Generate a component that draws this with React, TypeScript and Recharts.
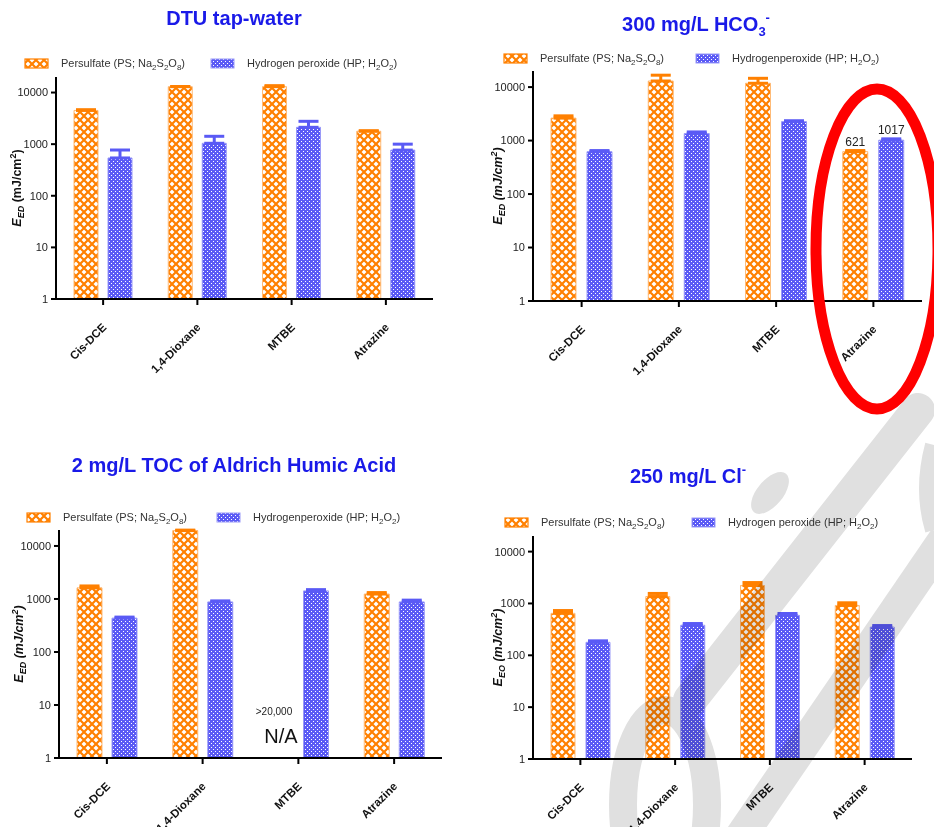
import React from "react";
import { BarChart, Bar, XAxis, YAxis, ErrorBar, LabelList } from "recharts";

// ─── Data ────────────────────────────────────────────────────────────────────

const compounds = ["Cis-DCE", "1,4-Dioxane", "MTBE", "Atrazine"];
const logTicks = [1, 10, 100, 1000, 10000];
const logTop = 20000;

// DTU tap-water
const tapPS = [4500, 13000, 13000, 1780];
const tapPSUp = [150, 100, 600, 40];
const tapHP = [540, 1040, 2120, 767];
const tapHPUp = [230, 380, 650, 233];

// 300 mg/L HCO3-
const hcoPS = [2630, 13000, 11800, 621];
const hcoPSUp = [270, 3700, 2800, 30];
const hcoHP = [620, 1350, 2260, 1017];
const hcoHPUp = [30, 100, 90, 60];
const hcoLabelled = ["Atrazine"];

// 2 mg/L TOC of Aldrich humic acid (PS on MTBE: N/A, >20,000)
const humPS = [1620, 19500, null, 1240];
const humPSUp = [140, 400, null, 80];
const humHP = [435, 880, 1420, 880];
const humHPUp = [20, 40, 80, 70];

// 250 mg/L Cl-
const clPS = [645, 1360, 2220, 915];
const clPSUp = [85, 200, 310, 115];
const clHP = [178, 380, 590, 350];
const clHPUp = [12, 30, 50, 25];

// legend texts, [text, subscript?]
const psLegend: [string, boolean][] = [["Persulfate (PS; Na", false], ["2", true], ["S", false], ["2", true], ["O", false], ["8", true], [")", false]];
const hpLegendA: [string, boolean][] = [["Hydrogen peroxide (HP; H", false], ["2", true], ["O", false], ["2", true], [")", false]];
const hpLegendB: [string, boolean][] = [["Hydrogenperoxide (HP; H", false], ["2", true], ["O", false], ["2", true], [")", false]];

// ─── Styles ──────────────────────────────────────────────────────────────────

const FONT = "'Liberation Sans', Arial, sans-serif";
const ORANGE = "#ff8000";
const ORANGE_EDGE = "#ffbb77";
const BLUE = "#5a5af5";
const BLUE_EDGE = "#9a9af8";
const TITLE_BLUE = "#1a1ae8";
const WATERMARK = "#e0e0e0";

type Row = { name: string; ps: number | null; hp: number; psErr: number[] | null; hpErr: number[]; psLabel: number | null; hpLabel: number | null };

function buildRows(ps: (number | null)[], psUp: (number | null)[], hp: number[], hpUp: number[], labelled: string[] = []): Row[] {
  return compounds.map((c, i) => ({
    name: c,
    ps: ps[i],
    hp: hp[i],
    psErr: psUp[i] == null ? null : [0, psUp[i] as number],
    hpErr: [0, hpUp[i]],
    psLabel: labelled.includes(c) ? ps[i] : null,
    hpLabel: labelled.includes(c) ? hp[i] : null,
  }));
}

function Patterns({ id }: { id: string }) {
  return (
    <defs>
      <pattern id={`ps-${id}`} width={8} height={8} patternUnits="userSpaceOnUse">
        <rect width={8} height={8} fill="#fff" />
        <path d="M0,0 L8,8 M8,0 L0,8" stroke={ORANGE} strokeWidth={2.2} />
      </pattern>
      <pattern id={`hp-${id}`} width={4} height={4} patternUnits="userSpaceOnUse">
        <rect width={4} height={4} fill={BLUE} />
        <rect x={1} y={1} width={1} height={1} fill="#fff" />
        <rect x={3} y={3} width={1} height={1} fill="#fff" />
      </pattern>
    </defs>
  );
}

function CompoundTick({ x, y, payload }: any) {
  return (
    <text
      transform={`translate(${x + 4},${y + 21}) rotate(-45)`}
      textAnchor="end"
      fontSize={11.5}
      fontWeight="bold"
      fontFamily={FONT}
      fill="#111"
    >
      {payload.value}
    </text>
  );
}

function yLabel(sub: string, dx: number, italicUnit: boolean) {
  return (props: any) => {
    const vb = props.viewBox;
    const cx = vb.x + dx;
    const cy = vb.y + vb.height / 2;
    const unitStyle = italicUnit ? "italic" : "normal";
    return (
      <text
        transform={`translate(${cx},${cy}) rotate(-90)`}
        textAnchor="middle"
        fontSize={12.5}
        fontWeight="bold"
        fontFamily={FONT}
        fill="#111"
      >
        <tspan fontStyle="italic">E</tspan>
        <tspan fontStyle="italic" fontSize={9} dy={3}>{sub}</tspan>
        <tspan fontStyle={unitStyle} dy={-3}> (mJ/cm</tspan>
        <tspan fontStyle={unitStyle} fontSize={9} dy={-5}>2</tspan>
        <tspan fontStyle={unitStyle} dy={5}>)</tspan>
      </text>
    );
  };
}

interface PanelProps {
  id: string;
  rows: Row[];
  left: number;
  top: number;
  width: number;
  height: number;
  margin: { top: number; right: number; bottom: number; left: number };
  axisWidth: number;
  labelX: number;
  sub: string;
  italicUnit: boolean;
  barSize: number;
  barGap: number;
}

function Panel(p: PanelProps) {
  return (
    <div style={{ position: "absolute", left: p.left, top: p.top }}>
      <BarChart width={p.width} height={p.height} data={p.rows} margin={p.margin} barSize={p.barSize} barGap={p.barGap}>
        <Patterns id={p.id} />
        <XAxis
          dataKey="name"
          height={30}
          interval={0}
          tick={<CompoundTick />}
          tickSize={6}
          tickMargin={2}
          axisLine={{ stroke: "#000", strokeWidth: 2 }}
          tickLine={{ stroke: "#000", strokeWidth: 2 }}
        />
        <YAxis
          scale="log"
          domain={[1, logTop]}
          ticks={logTicks}
          allowDataOverflow
          width={p.axisWidth}
          tickSize={5}
          tickMargin={3}
          tick={{ fontSize: 11, fill: "#222", fontFamily: FONT }}
          axisLine={{ stroke: "#000", strokeWidth: 2 }}
          tickLine={{ stroke: "#000", strokeWidth: 2 }}
          label={{ content: yLabel(p.sub, p.labelX, p.italicUnit) }}
        />
        <Bar dataKey="ps" fill={`url(#ps-${p.id})`} stroke={ORANGE_EDGE} strokeWidth={1} isAnimationActive={false}>
          <ErrorBar dataKey="psErr" width={10} stroke={ORANGE} strokeWidth={3} isAnimationActive={false} />
          <LabelList dataKey="psLabel" position="top" offset={6} fontSize={12} fill="#222" fontFamily={FONT} />
        </Bar>
        <Bar dataKey="hp" fill={`url(#hp-${p.id})`} stroke={BLUE_EDGE} strokeWidth={1} isAnimationActive={false}>
          <ErrorBar dataKey="hpErr" width={10} stroke={BLUE} strokeWidth={3} isAnimationActive={false} />
          <LabelList dataKey="hpLabel" position="top" offset={6} fontSize={12} fill="#222" fontFamily={FONT} />
        </Bar>
      </BarChart>
    </div>
  );
}

function ChemText({ x, y, parts }: { x: number; y: number; parts: [string, boolean][] }) {
  let prevSub = false;
  return (
    <text x={x} y={y} fontSize={11} fill="#333" fontFamily={FONT}>
      {parts.map(([t, sub], i) => {
        const dy = sub === prevSub ? 0 : sub ? 3 : -3;
        prevSub = sub;
        return (
          <tspan key={i} dy={dy} fontSize={sub ? 8 : 11}>
            {t}
          </tspan>
        );
      })}
    </text>
  );
}

function LegendRow({ x, y, hpX, hpParts }: { x: number; y: number; hpX: number; hpParts: [string, boolean][] }) {
  return (
    <g>
      <rect x={x} y={y} width={23} height={9} fill="url(#ps-legend)" stroke={ORANGE} strokeWidth={1.2} />
      <ChemText x={x + 36} y={y + 8} parts={psLegend} />
      <rect x={hpX} y={y} width={23} height={9} fill="url(#hp-legend)" stroke={BLUE_EDGE} strokeWidth={1} />
      <ChemText x={hpX + 36} y={y + 8} parts={hpParts} />
    </g>
  );
}

export default function App() {
  const tapRows = buildRows(tapPS, tapPSUp, tapHP, tapHPUp);
  const hcoRows = buildRows(hcoPS, hcoPSUp, hcoHP, hcoHPUp, hcoLabelled);
  const humRows = buildRows(humPS, humPSUp, humHP, humHPUp);
  const clRows = buildRows(clPS, clPSUp, clHP, clHPUp);

  return (
    <div style={{ position: "absolute", left: 0, top: 0, width: 934, height: 827, background: "#fff", overflow: "hidden", fontFamily: FONT, isolation: "isolate" }}>
      <Panel id="tap" rows={tapRows} left={0} top={0} width={470} height={440}
        margin={{ top: 77, right: 37, bottom: 111, left: 0 }} axisWidth={56} labelX={21} sub="ED" italicUnit={false} barSize={24} barGap={10} />
      <Panel id="hco" rows={hcoRows} left={470} top={0} width={464} height={440}
        margin={{ top: 71, right: 12, bottom: 109, left: 0 }} axisWidth={63} labelX={32} sub="ED" italicUnit barSize={25} barGap={11} />
      <Panel id="hum" rows={humRows} left={0} top={440} width={470} height={387}
        margin={{ top: 90, right: 28, bottom: 39, left: 0 }} axisWidth={59} labelX={23} sub="ED" italicUnit barSize={25} barGap={10} />
      <Panel id="cl" rows={clRows} left={470} top={440} width={464} height={387}
        margin={{ top: 96, right: 22, bottom: 38, left: 0 }} axisWidth={63} labelX={32} sub="EO" italicUnit barSize={24} barGap={11} />

      {/* faint watermark logo, multiplied over the page */}
      <svg width={934} height={827} style={{ position: "absolute", left: 0, top: 0, pointerEvents: "none", mixBlendMode: "multiply" }}>
        <g fill="none" stroke={WATERMARK}>
          <ellipse cx={665} cy={805} rx={42} ry={95} strokeWidth={28} />
          <path d="M918 410 L690 700" strokeWidth={34} strokeLinecap="round" />
          <path d="M735 845 L945 538" strokeWidth={32} />
          <path d="M934 445 Q922 490 934 530" strokeWidth={18} />
        </g>
        <ellipse cx={770} cy={493} rx={13} ry={25} transform="rotate(40 770 493)" fill={WATERMARK} />
      </svg>

      {/* titles, legends and annotations */}
      <svg width={934} height={827} style={{ position: "absolute", left: 0, top: 0, pointerEvents: "none" }}>
        <Patterns id="legend" />
        <g fontFamily={FONT} fontWeight="bold" fontSize={20} fill={TITLE_BLUE} textAnchor="middle">
          <text x={234} y={25}>DTU tap-water</text>
          <text x={696} y={31}>
            300 mg/L HCO<tspan fontSize={13} dy={5}>3</tspan>
            <tspan fontSize={13} dy={-14}>-</tspan>
          </text>
          <text x={234} y={472}>2 mg/L TOC of Aldrich Humic Acid</text>
          <text x={688} y={483}>
            250 mg/L Cl<tspan fontSize={13} dy={-9}>-</tspan>
          </text>
        </g>

        <LegendRow x={25} y={59} hpX={211} hpParts={hpLegendA} />
        <LegendRow x={504} y={54} hpX={696} hpParts={hpLegendB} />
        <LegendRow x={27} y={513} hpX={217} hpParts={hpLegendB} />
        <LegendRow x={505} y={518} hpX={692} hpParts={hpLegendA} />

        <text x={274} y={715} fontSize={10} fill="#222" textAnchor="middle" fontFamily={FONT}>&gt;20,000</text>
        <text x={281} y={743} fontSize={20} fill="#111" textAnchor="middle" fontFamily={FONT}>N/A</text>

        <ellipse cx={877} cy={249} rx={61} ry={160} fill="none" stroke="#ff0000" strokeWidth={11} />
      </svg>
    </div>
  );
}
